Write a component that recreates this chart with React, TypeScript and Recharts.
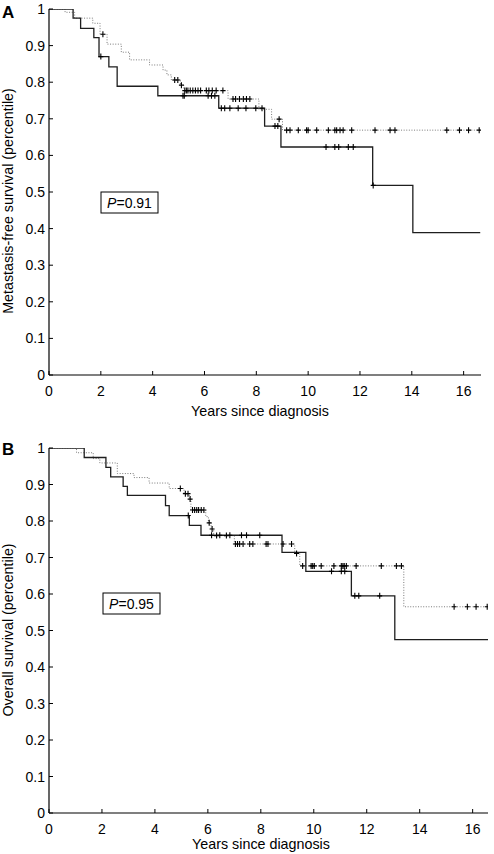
import { ComposedChart, Line, Scatter, XAxis, YAxis } from "recharts";

const xTicks = [0, 2, 4, 6, 8, 10, 12, 14, 16];
const yTicks = [0, 0.1, 0.2, 0.3, 0.4, 0.5, 0.6, 0.7, 0.8, 0.9, 1];

// Panel A: metastasis-free survival
const aSolidTimes = [0, 0.93, 1.22, 1.73, 1.93, 2.31, 2.63, 4.2, 6.55, 8.32, 8.95, 12.49, 14.04, 16.64];
const aSolidSurv = [1, 0.975, 0.947, 0.922, 0.87, 0.842, 0.789, 0.763, 0.729, 0.68, 0.623, 0.518, 0.389, 0.389];
const aSolidCensored = [2.0, 5.17, 5.22, 6.14, 6.27, 6.4, 6.65, 6.78, 6.98, 7.3, 7.6, 7.98, 8.22, 8.72, 8.83, 10.69, 11.03, 11.18, 11.55, 11.74, 12.51];

const aDottedTimes = [0, 0.62, 0.99, 1.69, 1.97, 2.24, 2.79, 3.11, 3.88, 4.4, 4.55, 4.72, 5.07, 5.2, 6.91, 8.1, 8.59, 9.01, 16.64];
const aDottedSurv = [1, 0.991, 0.975, 0.961, 0.931, 0.904, 0.882, 0.861, 0.847, 0.833, 0.82, 0.806, 0.792, 0.777, 0.754, 0.726, 0.699, 0.669, 0.669];
const aDottedCensored = [2.08, 4.85, 4.97, 5.11, 5.24, 5.3, 5.36, 5.45, 5.55, 5.65, 5.75, 5.85, 6.07, 6.17, 6.3, 6.45, 6.71, 7.1, 7.2, 7.35, 7.5, 7.62, 7.75, 8.88, 9.17, 9.3, 9.62, 9.94, 10.0, 10.33, 10.78, 11.03, 11.1, 11.23, 11.35, 11.68, 12.58, 13.16, 13.35, 15.35, 15.84, 16.19, 16.6];

// Panel B: overall survival
const bSolidTimes = [0, 1.33, 2.15, 2.33, 2.8, 2.96, 4.4, 4.54, 5.3, 5.74, 8.8, 9.7, 11.42, 13.06, 16.58];
const bSolidSurv = [1, 0.974, 0.947, 0.921, 0.895, 0.87, 0.842, 0.815, 0.788, 0.761, 0.714, 0.662, 0.595, 0.475, 0.475];
const bSolidCensored = [5.26, 6.14, 6.45, 6.83, 7.27, 7.46, 7.96, 10.67, 11.04, 11.17, 11.55, 11.7, 12.49];

const bDottedTimes = [0, 1.04, 1.67, 1.92, 2.58, 3.21, 3.78, 4.54, 5.1, 5.3, 5.36, 5.92, 6.02, 6.12, 6.22, 7.0, 9.28, 9.47, 13.4, 16.58];
const bDottedSurv = [1, 0.987, 0.971, 0.959, 0.93, 0.919, 0.904, 0.889, 0.875, 0.86, 0.83, 0.812, 0.795, 0.778, 0.76, 0.737, 0.711, 0.677, 0.565, 0.565];
const bDottedCensored = [4.96, 5.15, 5.25, 5.33, 5.42, 5.5, 5.58, 5.65, 5.75, 5.85, 6.05, 6.16, 6.33, 6.7, 7.04, 7.12, 7.2, 7.33, 7.58, 7.7, 8.2, 8.27, 8.84, 9.16, 9.35, 9.58, 9.9, 9.96, 10.02, 10.28, 10.76, 11.04, 11.1, 11.15, 11.23, 11.6, 12.55, 13.12, 13.31, 15.3, 15.8, 16.13, 16.55];

const FONT = "'Liberation Sans', Arial, Helvetica, sans-serif";

function curve(times: number[], surv: number[]) {
  return times.map((t, i) => ({ t, s: surv[i] }));
}

// survival level at each censoring time
function censorPoints(times: number[], surv: number[], marks: number[]) {
  return marks.map((t) => {
    let s = surv[0];
    times.forEach((tt, i) => {
      if (tt <= t) s = surv[i];
    });
    return { t, s };
  });
}

function fmtY(v: number) {
  if (v === 0) return "0";
  if (v === 1) return "1";
  return v.toFixed(1);
}

const Cross = (props: any) => {
  const { cx, cy } = props;
  if (cx == null || cy == null) return null;
  return (
    <path
      d={`M${cx - 2.5},${cy}h5M${cx},${cy - 3}v6`}
      stroke="#000"
      strokeWidth={1.1}
      fill="none"
    />
  );
};

const YTick = (props: any) => {
  const { x, y, payload } = props;
  return (
    <g>
      <line x1={x} y1={y} x2={x + 4} y2={y} stroke="#000" />
      <text x={x - 4} y={y + 5} textAnchor="end" fontSize={14} fontFamily={FONT} fill="#000">
        {fmtY(payload.value)}
      </text>
    </g>
  );
};

const XTick = (props: any) => {
  const { x, y, payload } = props;
  return (
    <g>
      <line x1={x} y1={y} x2={x} y2={y - 4} stroke="#000" />
      <text x={x} y={y + 20.5} textAnchor="middle" fontSize={14} fontFamily={FONT} fill="#000">
        {payload.value}
      </text>
    </g>
  );
};

type PanelProps = {
  top: number;
  height: number;
  marginTop: number;
  marginRight: number;
  axisHeight: number;
  xMax: number;
  solidTimes: number[];
  solidSurv: number[];
  solidCensored: number[];
  dottedTimes: number[];
  dottedSurv: number[];
  dottedCensored: number[];
};

function SurvivalPanel(p: PanelProps) {
  return (
    <div style={{ position: "absolute", left: 0, top: p.top }}>
      <ComposedChart
        width={494}
        height={p.height}
        margin={{ top: p.marginTop, right: p.marginRight, bottom: 0, left: 0 }}
      >
        <XAxis
          type="number"
          dataKey="t"
          domain={[0, p.xMax]}
          ticks={xTicks}
          allowDataOverflow
          height={p.axisHeight}
          tickSize={0}
          tickMargin={0}
          tickLine={false}
          axisLine={{ stroke: "#000", strokeWidth: 1.2 }}
          tick={<XTick />}
          interval={0}
        />
        <YAxis
          type="number"
          dataKey="s"
          domain={[0, 1]}
          ticks={yTicks}
          allowDataOverflow
          width={49}
          tickSize={0}
          tickMargin={0}
          tickLine={false}
          axisLine={{ stroke: "#000", strokeWidth: 1.2 }}
          tick={<YTick />}
          interval={0}
        />
        <Line
          data={curve(p.dottedTimes, p.dottedSurv)}
          dataKey="s"
          type="stepAfter"
          stroke="#7a7a7a"
          strokeWidth={1}
          strokeDasharray="1 1.6"
          dot={false}
          activeDot={false}
          isAnimationActive={false}
        />
        <Line
          data={curve(p.solidTimes, p.solidSurv)}
          dataKey="s"
          type="stepAfter"
          stroke="#1e1e1e"
          strokeWidth={1.3}
          dot={false}
          activeDot={false}
          isAnimationActive={false}
        />
        <Scatter
          data={censorPoints(p.dottedTimes, p.dottedSurv, p.dottedCensored)}
          dataKey="s"
          shape={<Cross />}
          isAnimationActive={false}
        />
        <Scatter
          data={censorPoints(p.solidTimes, p.solidSurv, p.solidCensored)}
          dataKey="s"
          shape={<Cross />}
          isAnimationActive={false}
        />
      </ComposedChart>
    </div>
  );
}

export default function App() {
  return (
    <div
      style={{
        position: "absolute",
        left: 0,
        top: 0,
        width: 494,
        height: 854,
        background: "#fff",
        fontFamily: FONT,
      }}
    >
      <SurvivalPanel
        top={0}
        height={420}
        marginTop={9}
        marginRight={13}
        axisHeight={45}
        xMax={16.67}
        solidTimes={aSolidTimes}
        solidSurv={aSolidSurv}
        solidCensored={aSolidCensored}
        dottedTimes={aDottedTimes}
        dottedSurv={aDottedSurv}
        dottedCensored={aDottedCensored}
      />
      <SurvivalPanel
        top={440}
        height={414}
        marginTop={8}
        marginRight={6}
        axisHeight={41}
        xMax={16.58}
        solidTimes={bSolidTimes}
        solidSurv={bSolidSurv}
        solidCensored={bSolidCensored}
        dottedTimes={bDottedTimes}
        dottedSurv={bDottedSurv}
        dottedCensored={bDottedCensored}
      />
      <svg
        width={494}
        height={854}
        style={{ position: "absolute", left: 0, top: 0, pointerEvents: "none" }}
        fontFamily={FONT}
      >
        <text x={2} y={18} fontSize={17} fontWeight="bold">A</text>
        <text x={2} y={455} fontSize={17} fontWeight="bold">B</text>

        <text x={12.5} y={201} fontSize={14.3} textAnchor="middle" transform="rotate(-90 12.5 201)">
          Metastasis-free survival (percentile)
        </text>
        <text x={12.5} y={630} fontSize={14.3} textAnchor="middle" transform="rotate(-90 12.5 630)">
          Overall survival (percentile)
        </text>

        <text x={260} y={416} fontSize={14.3} textAnchor="middle">Years since diagnosis</text>
        <text x={261} y={849} fontSize={14.3} textAnchor="middle">Years since diagnosis</text>

        <rect x={101} y={192} width={57} height={21} fill="#fff" stroke="#000" strokeWidth={1} />
        <text x={129.5} y={207.5} fontSize={14} textAnchor="middle">
          <tspan fontStyle="italic">P</tspan>=0.91
        </text>
        <rect x={103} y={593} width={57} height={21} fill="#fff" stroke="#000" strokeWidth={1} />
        <text x={131.5} y={608.5} fontSize={14} textAnchor="middle">
          <tspan fontStyle="italic">P</tspan>=0.95
        </text>
      </svg>
    </div>
  );
}
